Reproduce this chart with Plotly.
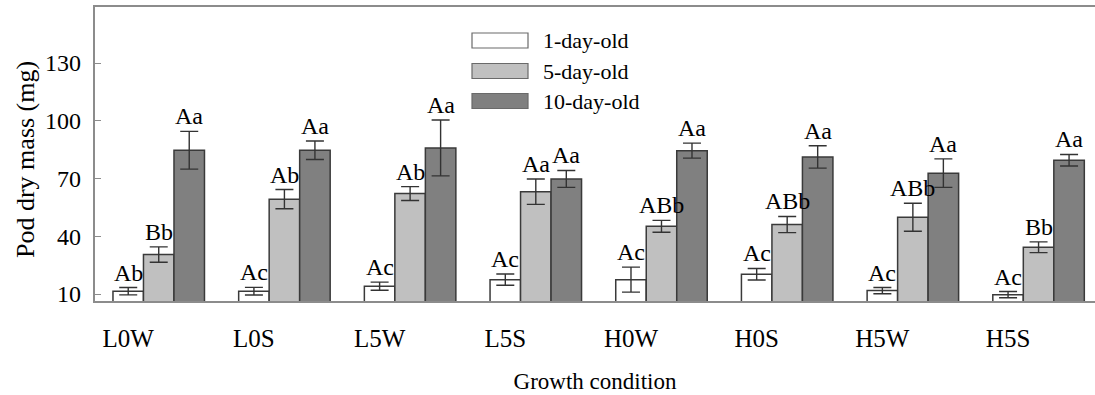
import plotly.graph_objects as go

# Growth conditions and pod dry mass (mg) by pod age
conditions = ["L0W", "L0S", "L5W", "L5S", "H0W", "H0S", "H5W", "H5S"]
series_names = ["1-day-old", "5-day-old", "10-day-old"]

mass_1d = [11.6, 11.6, 14.2, 17.6, 17.6, 20.4, 11.9, 9.8]
err_1d = [1.9, 2.0, 2.1, 2.9, 6.5, 3.0, 1.6, 1.6]
sig_1d = ["Ab", "Ac", "Ac", "Ac", "Ac", "Ac", "Ac", "Ac"]

mass_5d = [30.6, 59.4, 62.3, 63.3, 45.3, 46.2, 50.0, 34.4]
err_5d = [4.0, 5.0, 3.6, 6.6, 3.1, 4.2, 7.3, 2.8]
sig_5d = ["Bb", "Ab", "Ab", "Aa", "ABb", "ABb", "ABb", "Bb"]

mass_10d = [84.8, 84.8, 86.0, 69.9, 84.6, 81.3, 72.9, 79.6]
err_10d = [9.8, 4.8, 14.5, 4.4, 3.9, 5.8, 7.4, 3.0]
sig_10d = ["Aa", "Aa", "Aa", "Aa", "Aa", "Aa", "Aa", "Aa"]

y_ticks = [10, 40, 70, 100, 130]

FONT = "Liberation Serif, Times New Roman, serif"
fills = ["#ffffff", "#c0c0c0", "#808080"]
outline = "#3a3a3a"
axis_col = "#8c8c8c"

series = [
    (mass_1d, err_1d, sig_1d),
    (mass_5d, err_5d, sig_5d),
    (mass_10d, err_10d, sig_10d),
]

bargap = 0.272
bar_w = (1 - bargap) / len(series)
xpos = list(range(len(conditions)))

fig = go.Figure()
annotations = []
for k, (vals, errs, sigs) in enumerate(series):
    fig.add_trace(go.Bar(
        x=xpos, y=vals, name=series_names[k],
        marker=dict(color=fills[k], line=dict(color=outline, width=1.5)),
        error_y=dict(type="data", array=errs, visible=True,
                     color="#333333", thickness=1.4, width=9),
        showlegend=False,
    ))
    offset = (k - 1) * bar_w
    for i, (v, e, s) in enumerate(zip(vals, errs, sigs)):
        annotations.append(dict(
            x=i + offset, y=v + e, xref="x", yref="y", text=s,
            showarrow=False, yanchor="bottom", yshift=0,
            font=dict(family=FONT, size=24, color="#000000"),
        ))

# Legend drawn as wide swatches with labels beside them
plot_left, plot_w = 95, 1000
plot_bottom, plot_h = 301, 294
legend_rows = [40.5, 71, 101]
for k, py in enumerate(legend_rows):
    x0 = (472 - plot_left) / plot_w
    x1 = (528 - plot_left) / plot_w
    y0 = (plot_bottom - (py + 7.5)) / plot_h
    y1 = (plot_bottom - (py - 7.5)) / plot_h
    fig.add_shape(type="rect", xref="paper", yref="paper",
                  x0=x0, x1=x1, y0=y0, y1=y1,
                  fillcolor=fills[k], line=dict(color="#6a6a6a", width=1.2))
    annotations.append(dict(
        x=(541 - plot_left) / plot_w, y=(plot_bottom - py) / plot_h,
        xref="paper", yref="paper", text=series_names[k], showarrow=False,
        xanchor="left", yanchor="middle",
        font=dict(family=FONT, size=22, color="#000000"),
    ))

# Y tick labels set a fixed gap left of the axis line
for t in y_ticks:
    annotations.append(dict(
        x=(83 - plot_left) / plot_w, y=t, xref="paper", yref="y",
        text=str(t), showarrow=False, xanchor="right", yanchor="middle",
        font=dict(family=FONT, size=24, color="#000000"),
    ))

# Y-axis title placed as rotated text left of the tick labels
annotations.append(dict(
    x=(25 - plot_left) / plot_w, y=(plot_bottom - 160) / plot_h,
    xref="paper", yref="paper", text="Pod dry mass (mg)", showarrow=False,
    textangle=-90, xanchor="center", yanchor="middle",
    font=dict(family=FONT, size=26, color="#000000"),
))

fig.update_layout(
    width=1095, height=395,
    margin=dict(l=95, r=0, t=7, b=94),
    paper_bgcolor="white", plot_bgcolor="white",
    barmode="group", bargap=bargap, bargroupgap=0,
    font=dict(family=FONT, color="#000000"),
    annotations=annotations,
    xaxis=dict(
        range=[-0.507, 7.449],
        tickvals=[i - bar_w for i in xpos], ticktext=conditions,
        ticks="", showgrid=False, zeroline=False,
        showline=True, linecolor=axis_col, linewidth=2, mirror=True,
        tickfont=dict(family=FONT, size=25),
        ticklabelstandoff=14,
        title=dict(text="Growth condition", standoff=22,
                   font=dict(family=FONT, size=23)),
    ),
    yaxis=dict(
        range=[6.5, 159.2],
        tickvals=y_ticks, showticklabels=False,
        ticks="inside", ticklen=6, tickcolor=axis_col, tickwidth=1.2,
        showgrid=False, zeroline=False,
        showline=True, linecolor=axis_col, linewidth=2,
    ),
)

fig.write_html("out.html")
